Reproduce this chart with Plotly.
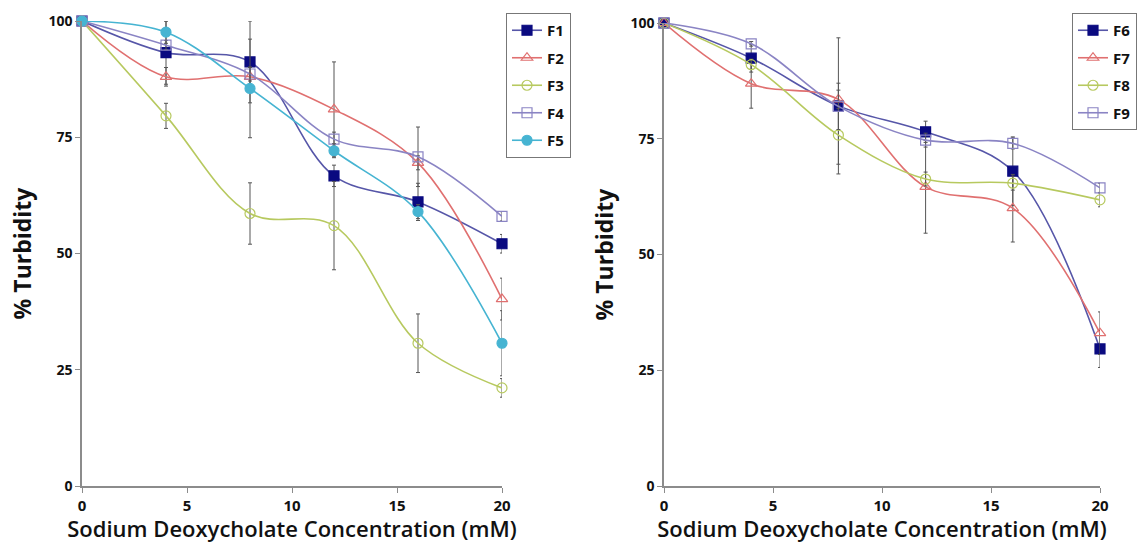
import plotly.graph_objects as go

conc = [0, 4, 8, 12, 16, 20]

# Left panel
F1 = [100, 93.2, 91.2, 66.7, 61.1, 52.1]
F2 = [100, 88.0, 88.0, 81.0, 69.5, 40.2]
F3 = [100, 79.6, 58.6, 56.0, 30.7, 21.1]
F4 = [100, 94.8, 88.6, 74.6, 70.8, 58.0]
F5 = [100, 97.6, 85.5, 72.1, 59.0, 30.7]
F1_err = [0, 6.8, 8.8, 2.3, 4.0, 2.0]
F2_err = [0, 2.0, 2.0, 10.2, 1.5, 4.5]
F3_err = [0, 2.7, 6.6, 9.5, 6.3, 2.0]
F4_err = [0, 1.0, 1.5, 1.5, 6.4, 1.0]
F5_err = [0, 2.4, 10.6, 1.5, 1.5, 7.0]

# Right panel
F6 = [100, 92.4, 82.1, 76.5, 68.0, 29.6]
F7 = [100, 86.9, 83.5, 64.6, 60.0, 33.0]
F8 = [100, 91.0, 75.8, 66.3, 65.4, 61.8]
F9 = [100, 95.5, 82.0, 74.7, 74.0, 64.4]
F6_err = [0, 3.0, 14.7, 2.3, 7.4, 4.0]
F7_err = [0, 5.3, 2.0, 10.0, 7.3, 4.6]
F8_err = [0, 1.0, 6.3, 1.5, 1.5, 1.5]
F9_err = [0, 0.5, 5.0, 1.5, 1.2, 1.0]

x_ticks = [0, 5, 10, 15, 20]
y_ticks = [0, 25, 50, 75, 100]

NAVY = "#0a0a80"
NAVY_LINE = "#5656a8"
RED = "#e07070"
GREEN = "#b7c95f"
PURPLE = "#8a84c4"
CYAN = "#46b4d2"
ERR = "#555555"

fig = go.Figure()

def add(name, y, err, color, line_color, symbol, xa, ya, legend):
    fig.add_trace(go.Scatter(
        x=conc, y=y, name=name, mode="lines+markers",
        xaxis=xa, yaxis=ya, legend=legend, legendgroup=name,
        line=dict(color=line_color, width=1.6, shape="spline", smoothing=1.0),
        marker=dict(symbol=symbol, size=10, color=color,
                    line=dict(color=color, width=1.2)),
        error_y=dict(type="data", array=err, visible=True,
                     color=ERR, thickness=1, width=2),
        cliponaxis=False,
    ))

add("F1", F1, F1_err, NAVY, NAVY_LINE, "square", "x", "y", "legend")
add("F2", F2, F2_err, RED, RED, "triangle-up-open", "x", "y", "legend")
add("F3", F3, F3_err, GREEN, GREEN, "circle-open", "x", "y", "legend")
add("F4", F4, F4_err, PURPLE, PURPLE, "square-open", "x", "y", "legend")
add("F5", F5, F5_err, CYAN, CYAN, "circle", "x", "y", "legend")

add("F6", F6, F6_err, NAVY, NAVY_LINE, "square", "x2", "y2", "legend2")
add("F7", F7, F7_err, RED, RED, "triangle-up-open", "x2", "y2", "legend2")
add("F8", F8, F8_err, GREEN, GREEN, "circle-open", "x2", "y2", "legend2")
add("F9", F9, F9_err, PURPLE, PURPLE, "square-open", "x2", "y2", "legend2")

W, H = 1137, 543
FONT = "Open Sans"

def xaxis(domain):
    return dict(
        domain=domain, range=[0, 20], tickvals=x_ticks,
        showgrid=False, zeroline=False, showline=True,
        linecolor="#8c8c8c", linewidth=1.5,
        ticks="outside", ticklen=5, tickcolor="#8c8c8c",
        tickfont=dict(family=FONT, size=15, color="#111", weight="bold"),
        title=dict(text="Sodium Deoxycholate Concentration (mM)",
                   font=dict(family=FONT, size=22, color="#111", weight=600),
                   standoff=0),
    )

def yaxis(domain, anchor):
    return dict(
        domain=domain, range=[0, 100], tickvals=y_ticks, anchor=anchor,
        showgrid=False, zeroline=False, showline=True,
        linecolor="#8c8c8c", linewidth=1.5,
        ticks="outside", ticklen=5, tickcolor="#8c8c8c",
        tickfont=dict(family=FONT, size=14, color="#111", weight="bold"),
        title=dict(text="% Turbidity",
                   font=dict(family=FONT, size=23, color="#111", weight="bold"),
                   standoff=10),
    )

legend_style = dict(
    bgcolor="white", bordercolor="#777", borderwidth=1,
    font=dict(family=FONT, size=15, color="#111", weight="bold"),
    tracegroupgap=5, itemwidth=30, xanchor="left", yanchor="top",
)

fig.update_layout(
    width=W, height=H,
    paper_bgcolor="white", plot_bgcolor="white",
    margin=dict(l=0, r=0, t=0, b=0, autoexpand=False),
    showlegend=True,
    xaxis=dict(**xaxis([82 / W, 502 / W]), anchor="y"),
    yaxis=yaxis([(H - 486) / H, (H - 21) / H], "x"),
    xaxis2=dict(**xaxis([664 / W, 1100 / W]), anchor="y2"),
    yaxis2=yaxis([(H - 486) / H, (H - 23) / H], "x2"),
    legend=dict(**legend_style, x=506 / W, y=(H - 13) / H),
    legend2=dict(**legend_style, x=1072 / W, y=(H - 13) / H),
)

fig.write_html("out.html", config={"displayModeBar": False},
               post_script="document.body.style.margin='0';")
